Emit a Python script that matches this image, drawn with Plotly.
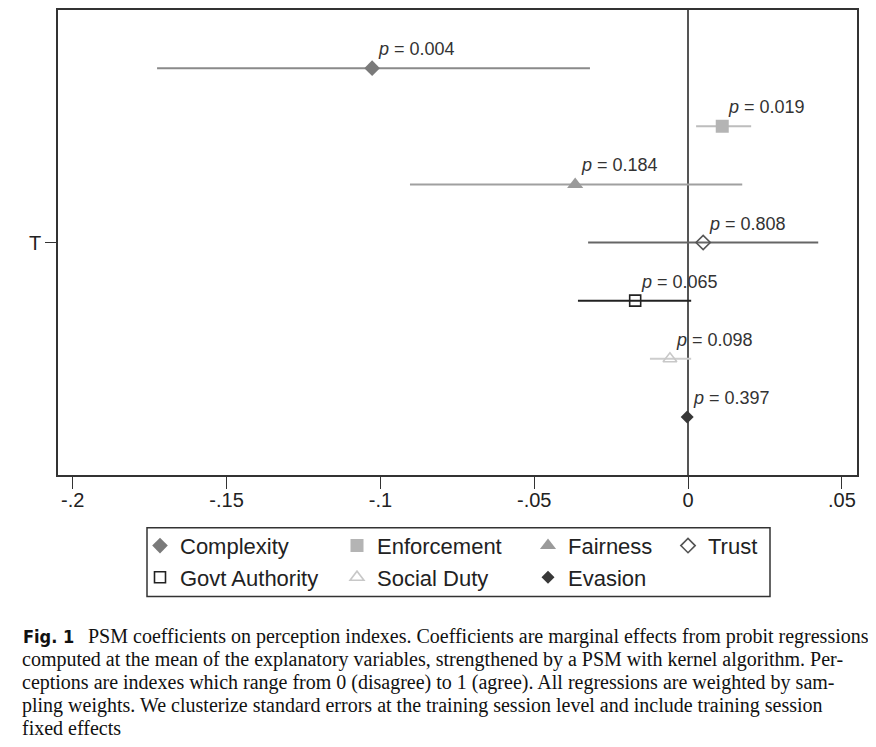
import plotly.graph_objects as go

# ---- data ----
series = ["Complexity", "Enforcement", "Fairness", "Trust", "Govt Authority", "Social Duty", "Evasion"]
coef = [-0.1027, 0.0111, -0.0367, 0.0049, -0.0172, -0.0059, -0.0003]
ci_low = [-0.1726, 0.0026, -0.0904, -0.0325, -0.0358, -0.0124, -0.0008]
ci_high = [-0.0319, 0.0205, 0.0176, 0.0423, 0.0010, 0.0010, 0.0002]
pvals = ["0.004", "0.019", "0.184", "0.808", "0.065", "0.098", "0.397"]
row_offset = [3, 2, 1, 0, -1, -2, -3]
y_tick_vals = [0]
y_tick_text = ["T"]
x_tick_vals = [-0.2, -0.15, -0.1, -0.05, 0, 0.05]
x_tick_text = ["-.2", "-.15", "-.1", "-.05", "0", ".05"]

caption_first = "PSM coefficients on perception indexes. Coefficients are marginal effects from probit regressions"
caption_lines = [
    "computed at the mean of the explanatory variables, strengthened by a PSM with kernel algorithm. Per-",
    "ceptions are indexes which range from 0 (disagree) to 1 (agree). All regressions are weighted by sam-",
    "pling weights. We clusterize standard errors at the training session level and include training session",
    "fixed effects",
]

# ---- styles ----
symbols = ["diamond", "square", "triangle-up", "diamond-open", "square-open", "triangle-up-open", "diamond"]
sizes = [12, 13, 14, 11, 11, 12, 10]
mcolors = ["#7a7a7a", "#b4b4b4", "#9a9a9a", "#555555", "#222222", "#c8c8c8", "#383838"]
lcolors = ["#8a8a8a", "#bdbdbd", "#a0a0a0", "#666666", "#222222", "#cdcdcd", "#383838"]
legend_of = ["legend", "legend2", "legend3", "legend4", "legend", "legend2", "legend3"]

W, H = 876, 747
OFF = 8  # page offset of the figure in the browser
L, R, T, B = 50, 27, 0, 280
PW = W - L - R
PH = H - T - B
PB = H - B


def px_x(ax):
    return (ax - OFF - L) / PW


def px_y(ay):
    return (PB - (ay - OFF)) / PH


fig = go.Figure()
for i, name in enumerate(series):
    fig.add_trace(go.Scatter(
        x=[coef[i]], y=[row_offset[i]], name=name, mode="markers", legend=legend_of[i],
        marker=dict(symbol=symbols[i], size=sizes[i], color=mcolors[i],
                    line=dict(width=1.6 if "open" in symbols[i] else 0, color=mcolors[i])),
        error_x=dict(type="data", symmetric=False,
                     array=[ci_high[i] - coef[i]], arrayminus=[coef[i] - ci_low[i]],
                     color=lcolors[i], thickness=2, width=0),
    ))
    fig.add_annotation(x=coef[i], y=row_offset[i], text="<i>p</i> = " + pvals[i],
                       showarrow=False, xanchor="left", yanchor="bottom",
                       xshift=4, yshift=7,
                       font=dict(family="Liberation Sans, Arial", size=18, color="#333333"))

# caption
cap_font = dict(family="Liberation Serif, Times New Roman", size=20, color="#111111")
fig.add_annotation(xref="paper", yref="paper", x=px_x(21), y=px_y(637),
                   text="<b>Fig. 1</b>", showarrow=False, xanchor="left", yanchor="middle",
                   font=dict(family="DejaVu Sans Condensed, Liberation Sans", size=18, color="#111111"))
fig.add_annotation(xref="paper", yref="paper", x=px_x(86), y=px_y(637),
                   text=caption_first, showarrow=False, xanchor="left", yanchor="middle", font=cap_font)
for j, line in enumerate(caption_lines):
    fig.add_annotation(xref="paper", yref="paper", x=px_x(20), y=px_y(660 + 23 * j),
                       text=line, showarrow=False, xanchor="left", yanchor="middle", font=cap_font)

# legend frame
fig.add_shape(type="rect", xref="paper", yref="paper",
              x0=px_x(147), x1=px_x(770), y0=px_y(528), y1=px_y(597),
              line=dict(color="#333333", width=1.5), fillcolor="rgba(0,0,0,0)")

leg_common = dict(orientation="v", xanchor="left", yanchor="top", borderwidth=0,
                  bgcolor="rgba(0,0,0,0)", font=dict(size=22, color="#222222"),
                  itemwidth=30)
leg_y = px_y(525)
fig.update_layout(
    width=W, height=H,
    margin=dict(l=L, r=R, t=T, b=B),
    paper_bgcolor="white", plot_bgcolor="white",
    font=dict(family="Liberation Sans, Arial", color="#222222"),
    showlegend=True,
    legend=dict(x=px_x(140), y=leg_y, **leg_common),
    legend2=dict(x=px_x(337), y=leg_y, **leg_common),
    legend3=dict(x=px_x(528), y=leg_y, **leg_common),
    legend4=dict(x=px_x(668), y=leg_y, **leg_common),
    xaxis=dict(range=[-0.2048, 0.0549], tickvals=x_tick_vals, ticktext=x_tick_text,
               ticks="outside", ticklen=12, tickcolor="#333333", tickwidth=1.3,
               ticklabelstandoff=-6,
               showgrid=False, zeroline=True, zerolinecolor="#555555", zerolinewidth=1.6,
               showline=True, linecolor="#333333", linewidth=1.6, mirror=True,
               tickfont=dict(size=20, color="#222222")),
    yaxis=dict(range=[-4, 4], tickvals=y_tick_vals, ticktext=y_tick_text,
               ticks="outside", ticklen=11, tickcolor="#333333", tickwidth=1.3,
               showgrid=False, zeroline=False,
               showline=True, linecolor="#333333", linewidth=1.6, mirror=True,
               tickfont=dict(size=20, color="#222222")),
)

fig.write_html("out.html")
